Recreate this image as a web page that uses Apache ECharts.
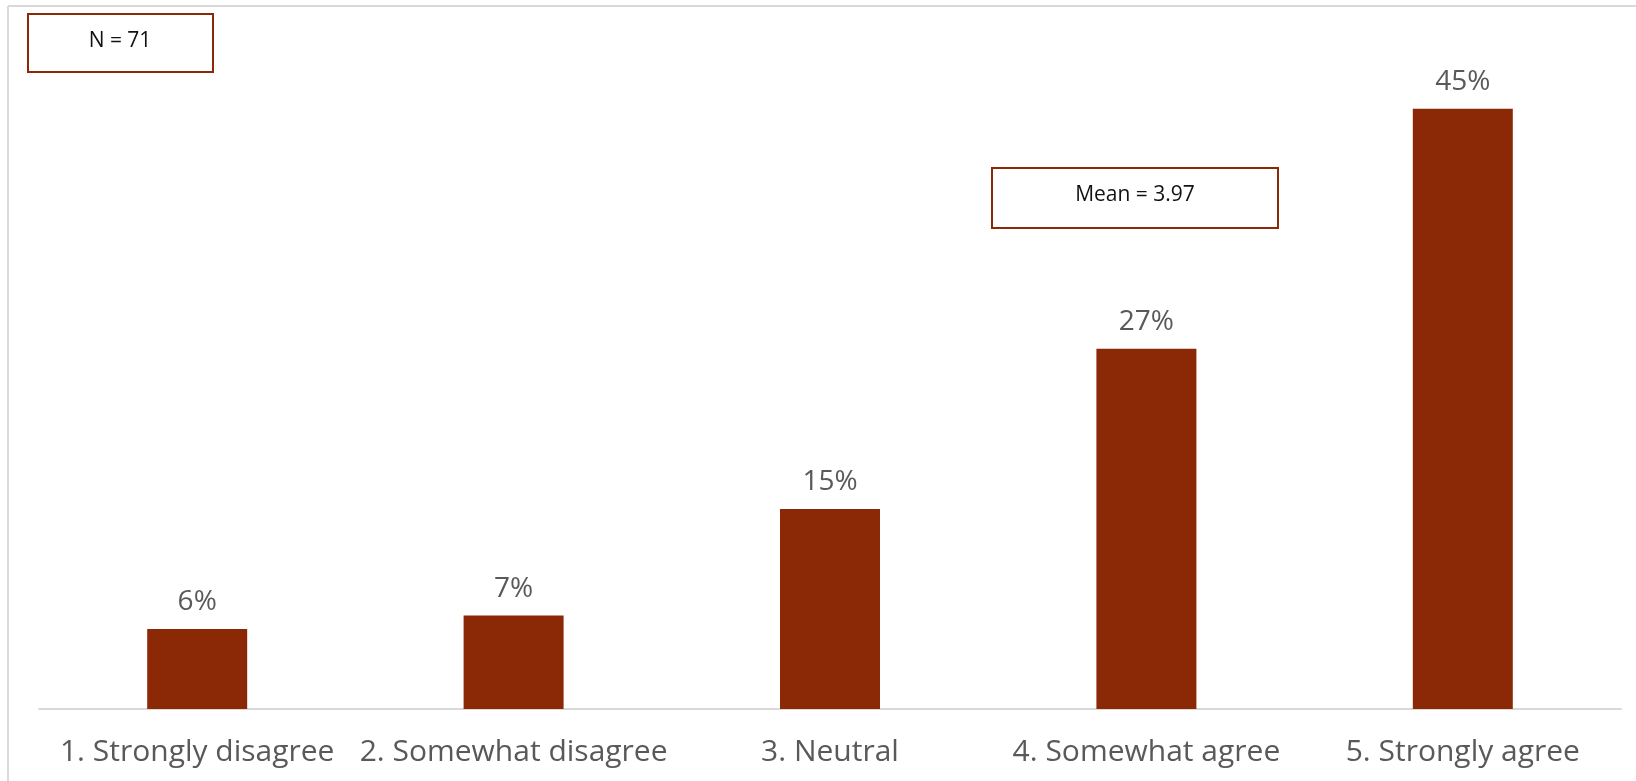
<!DOCTYPE html>
<html>
<head>
<meta charset="utf-8">
<title>Survey responses</title>
<script src="https://cdn.jsdelivr.net/npm/echarts@6/dist/echarts.min.js"></script>
<style>
  html, body { margin: 0; padding: 0; background: #ffffff; }
  #chart { width: 1636px; height: 781px; }
</style>
</head>
<body>
<div id="chart"></div>
<script>
// Response categories and share of respondents (%)
const categories = [
  '1. Strongly disagree',
  '2. Somewhat disagree',
  '3. Neutral',
  '4. Somewhat agree',
  '5. Strongly agree'
];
const shares = [6, 7, 15, 27, 45];
const sampleNote = 'N = 71';
const meanNote = 'Mean = 3.97';

const barColor = '#8b2805';
const labelColor = '#595959';
const fontFamily = 'Open Sans, Lato, sans-serif';

const chart = echarts.init(document.getElementById('chart'), null, { renderer: 'canvas' });

chart.setOption({
  animation: false,
  backgroundColor: '#ffffff',
  grid: { left: 39, right: 15, top: 42, bottom: 72, containLabel: false },
  xAxis: {
    type: 'category',
    data: categories,
    boundaryGap: true,
    axisLine: { show: true, lineStyle: { color: '#d9d9d9', width: 2 } },
    axisTick: { show: false },
    axisLabel: {
      color: labelColor,
      fontFamily: fontFamily,
      fontSize: 30,
      margin: 28,
      interval: 0
    }
  },
  yAxis: {
    type: 'value',
    min: 0,
    max: 50,
    show: false,
    splitLine: { show: false }
  },
  series: [{
    type: 'bar',
    data: shares,
    barWidth: '31.6%',
    itemStyle: { color: barColor },
    label: {
      show: true,
      position: 'top',
      distance: 13,
      color: labelColor,
      fontFamily: fontFamily,
      fontSize: 28,
      formatter: p => p.value + '%'
    }
  }],
  graphic: [
    // chart frame (top and left edges)
    { type: 'line', shape: { x1: 8, y1: 6, x2: 1636, y2: 6 }, style: { stroke: '#d9d9d9', lineWidth: 2 }, silent: true },
    { type: 'line', shape: { x1: 8, y1: 6, x2: 8, y2: 781 }, style: { stroke: '#d9d9d9', lineWidth: 2 }, silent: true },
    // sample size box
    {
      type: 'group', left: 27, top: 13,
      children: [
        { type: 'rect', shape: { x: 0, y: 0, width: 185, height: 58 }, style: { fill: '#ffffff', stroke: '#8b2805', lineWidth: 2 } },
        { type: 'text', x: 92, y: 27, style: { text: sampleNote, fill: '#111111', font: '21px ' + fontFamily, align: 'center', verticalAlign: 'middle' } }
      ]
    },
    // mean box
    {
      type: 'group', left: 991, top: 167,
      children: [
        { type: 'rect', shape: { x: 0, y: 0, width: 286, height: 60 }, style: { fill: '#ffffff', stroke: '#8b2805', lineWidth: 2 } },
        { type: 'text', x: 143, y: 27, style: { text: meanNote, fill: '#111111', font: '21px ' + fontFamily, align: 'center', verticalAlign: 'middle' } }
      ]
    }
  ]
});
</script>
</body>
</html>
